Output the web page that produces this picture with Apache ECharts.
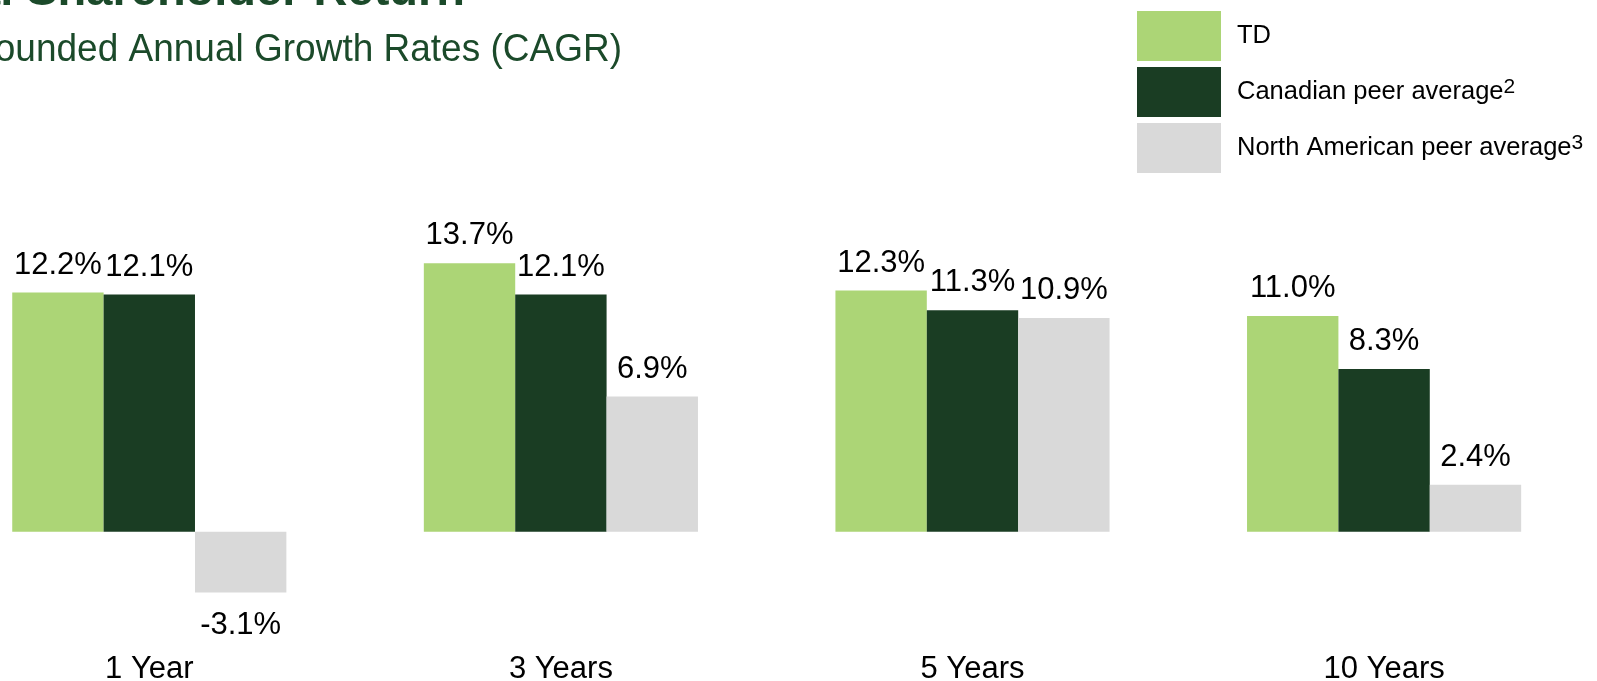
<!DOCTYPE html>
<html>
<head>
<meta charset="utf-8">
<script src="https://cdn.jsdelivr.net/npm/echarts@6/dist/echarts.min.js"></script>
<style>
html,body{margin:0;padding:0;background:#fff;}
#c{width:1597px;height:681px;}
</style>
</head>
<body>
<div id="c"></div>
<script>
const categories = ['1 Year', '3 Years', '5 Years', '10 Years'];
const seriesNames = ['TD', 'Canadian peer average', 'North American peer average'];
const legendFootnotes = ['', '2', '3'];
const tdValues = [12.2, 13.7, 12.3, 11.0];
const canadianValues = [12.1, 12.1, 11.3, 8.3];
const northAmericanValues = [-3.1, 6.9, 10.9, 2.4];
const titleText = 'Total Shareholder Return';
const subtitleText = 'Compounded Annual Growth Rates (CAGR)';

const colors = ['#acd576', '#1a3d23', '#d9d9d9'];
const FONT = "'Liberation Sans', Arial, sans-serif";

function makeData(vals) {
  return vals.map(v => ({
    value: v,
    label: v < 0 ? { position: 'bottom', distance: 17 } : { position: 'top', distance: 12 }
  }));
}

const allValues = [tdValues, canadianValues, northAmericanValues];

const chart = echarts.init(document.getElementById('c'), null, { renderer: 'canvas' });
chart.setOption({
  animation: false,
  backgroundColor: '#ffffff',
  textStyle: { fontFamily: FONT },
  graphic: [
    {
      type: 'text', x: 465, y: -8.3,
      style: { text: titleText, font: 'bold 47px ' + FONT, fill: '#1b4a2a', align: 'right', verticalAlign: 'middle' }
    },
    {
      type: 'text', x: 622, y: 50, scaleY: 1.05,
      style: { text: subtitleText, font: '37px ' + FONT, fill: '#1b4a2a', align: 'right', verticalAlign: 'middle' }
    }
  ],
  legend: {
    orient: 'vertical',
    left: 1137, top: 11,
    padding: 0,
    itemWidth: 84, itemHeight: 50, itemGap: 6,
    icon: 'rect',
    formatter: name => {
      const fn = legendFootnotes[seriesNames.indexOf(name)];
      return fn ? name + '{sup|' + fn + '}' : name;
    },
    textStyle: {
      fontSize: 25.5, color: '#000', fontFamily: FONT, padding: [0, 0, 0, 11],
      rich: { sup: { fontSize: 21, color: '#000', fontFamily: FONT, padding: [0, 0, 9, 0] } }
    },
    data: seriesNames
  },
  grid: { left: -56.5, width: 1646.4, top: 218.1, height: 392, containLabel: false, outerBoundsMode: 'none' },
  xAxis: {
    type: 'category',
    data: categories,
    axisLine: { show: false, onZero: false },
    axisTick: { show: false },
    axisLabel: { fontSize: 31, color: '#000', fontFamily: FONT, margin: 44 },
    splitLine: { show: false }
  },
  yAxis: {
    type: 'value', min: -4, max: 16, interval: 4,
    show: false,
    splitLine: { show: false }
  },
  series: allValues.map((vals, i) => ({
    type: 'bar',
    name: seriesNames[i],
    data: makeData(vals),
    barGap: '0%',
    barCategoryGap: '33.4%',
    itemStyle: { color: colors[i] },
    label: {
      show: true,
      fontSize: 31,
      color: '#000',
      fontFamily: FONT,
      formatter: p => p.value.toFixed(1) + '%'
    }
  }))
});
</script>
</body>
</html>
